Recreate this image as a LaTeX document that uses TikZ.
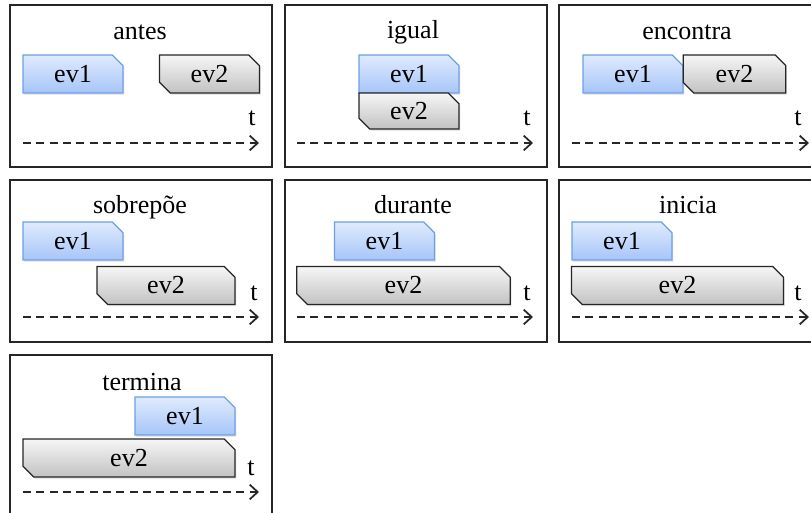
\documentclass[tikz,border=0pt]{standalone}
\usepackage{fontspec}
\setmainfont{Liberation Serif}
\usetikzlibrary{shapes.misc,shadows,arrows.meta}

\definecolor{evblueT}{HTML}{E0EBFD}
\definecolor{evblueB}{HTML}{A6C5F9}
\definecolor{evblueD}{HTML}{6E9EE6}
\definecolor{evgrayT}{HTML}{F6F6F6}
\definecolor{evgrayB}{HTML}{C2C2C2}

\tikzset{
  panel/.style={draw=black!85, line width=1.1pt},
  title/.style={font=\fontsize{19.5}{23}\selectfont, inner sep=0.75pt},
  tlabel/.style={font=\fontsize{19.5}{23}\selectfont, inner sep=0.75pt},
  evbox/.style={chamfered rectangle, chamfered rectangle sep=4pt, inner sep=0pt,
    minimum height=28.5pt, font=\fontsize{19.5}{23}\selectfont, line width=0.9pt,
    drop shadow={shadow xshift=1pt, shadow yshift=-1.5pt, opacity=0.18}},
  evone/.style={evbox, chamfered rectangle corners={north east},
    draw=evblueD, top color=evblueT, bottom color=evblueB},
  evtwo/.style={evbox, chamfered rectangle corners={north east, south west},
    draw=black!85, top color=evgrayT, bottom color=evgrayB},
  timeline/.style={draw=black!85, line width=1.5pt, dash pattern=on 6pt off 4pt,
    -{Straight Barb[length=6pt, width=11pt, line width=1.3pt]}}
}

\begin{document}
\begin{tikzpicture}[x=0.75pt,y=0.75pt,yscale=-1,xscale=1]
\clip (0,0) rectangle (811,513);

% antes
\draw[panel] (10,5) rectangle (272,167);
\node[title] (antes) at (140,32) {antes};
\node[evone, minimum width=75pt] (antes1) at (73,74) {ev1};
\node[evtwo, minimum width=75pt] (antes2) at (209.5,74) {ev2};
\node[tlabel] (antesT) at (252,118) {t};
\coordinate (antesA) at (23,143);
\coordinate (antesB) at (259,143);
\draw[timeline] (antesA) -- (antesB);

% igual
\draw[panel] (285,5) rectangle (547,167);
\node[title] (igual) at (413,32) {igual};
\node[evone, minimum width=75pt] (igual1) at (409,74) {ev1};
\node[evtwo, minimum width=75pt, minimum height=27pt] (igual2) at (409,111) {ev2};
\node[tlabel] (igualT) at (527,118) {t};
\coordinate (igualA) at (297,143);
\coordinate (igualB) at (533,143);
\draw[timeline] (igualA) -- (igualB);

% encontra
\draw[panel] (559,5) rectangle (821,167);
\node[title] (encontra) at (687,32) {encontra};
\node[evone, minimum width=75pt] (encontra1) at (633,74) {ev1};
\node[evtwo, minimum width=77pt] (encontra2) at (734.5,74) {ev2};
\node[tlabel] (encontraT) at (798,118) {t};
\coordinate (encontraA) at (572,143);
\coordinate (encontraB) at (809,143);
\draw[timeline] (encontraA) -- (encontraB);

% sobrepoe
\draw[panel] (10,180) rectangle (272,342);
\node[title] (sobrepoe) at (140,207) {sobrepõe};
\node[evone, minimum width=75pt] (sobrepoe1) at (73,241) {ev1};
\node[evtwo, minimum width=103.5pt] (sobrepoe2) at (166,285.5) {ev2};
\node[tlabel] (sobrepoeT) at (254,293) {t};
\coordinate (sobrepoeA) at (23,317);
\coordinate (sobrepoeB) at (259,317);
\draw[timeline] (sobrepoeA) -- (sobrepoeB);

% durante
\draw[panel] (285,180) rectangle (547,342);
\node[title] (durante) at (413,205) {durante};
\node[evone, minimum width=75pt] (durante1) at (384.5,241) {ev1};
\node[evtwo, minimum width=160pt] (durante2) at (403.5,285.5) {ev2};
\node[tlabel] (duranteT) at (527,293) {t};
\coordinate (duranteA) at (297,317);
\coordinate (duranteB) at (533,317);
\draw[timeline] (duranteA) -- (duranteB);

% inicia
\draw[panel] (559,180) rectangle (821,342);
\node[title] (inicia) at (688,205) {inicia};
\node[evone, minimum width=75pt] (inicia1) at (622,241) {ev1};
\node[evtwo, minimum width=159pt] (inicia2) at (677.5,285.5) {ev2};
\node[tlabel] (iniciaT) at (798,293) {t};
\coordinate (iniciaA) at (572,317);
\coordinate (iniciaB) at (809,317);
\draw[timeline] (iniciaA) -- (iniciaB);

% termina
\draw[panel] (10,355) rectangle (272,530);
\node[title] (termina) at (142,382) {termina};
\node[evone, minimum width=75pt] (termina1) at (185,416) {ev1};
\node[evtwo, minimum width=159pt] (termina2) at (129,458) {ev2};
\node[tlabel] (terminaT) at (251,468) {t};
\coordinate (terminaA) at (23,492);
\coordinate (terminaB) at (259,492);
\draw[timeline] (terminaA) -- (terminaB);

\end{tikzpicture}
\end{document}
